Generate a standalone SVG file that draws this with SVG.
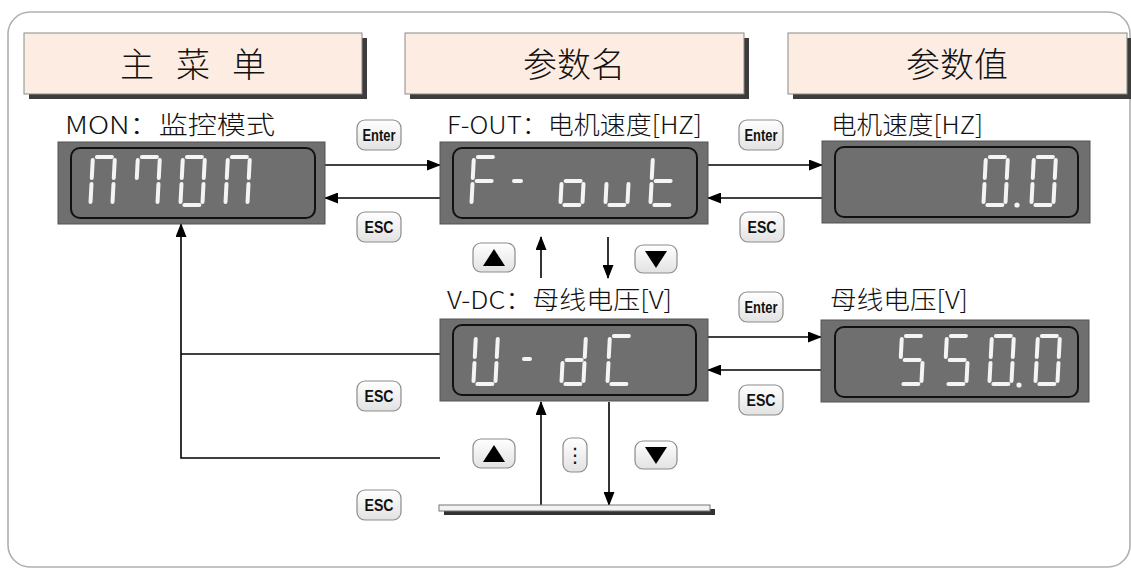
<svg xmlns="http://www.w3.org/2000/svg" xmlns:xlink="http://www.w3.org/1999/xlink" width="1131" height="570" viewBox="0 0 1131 570">
<style>
.frame{fill:#fff;stroke:#b0b0b0;stroke-width:1.6}
.hdr{fill:#fcece2;stroke:#8a8a8a;stroke-width:1}
.hdrsh{fill:#3c3c3c}
.htxt{font-family:"Noto Sans CJK SC",sans-serif;font-size:34px;font-weight:300;fill:#111;text-anchor:middle}
.lbl{font-family:"Noto Sans CJK SC","Liberation Sans",sans-serif;font-size:25px;font-weight:300;fill:#111}
.disp{fill:#6f6f6f;stroke:#555;stroke-width:1}
.inner{fill:#6f6f6f;stroke:#111;stroke-width:2}
.seg{fill:#f4f4f4}
.btn{fill:url(#bg);stroke:#8c8c8c;stroke-width:1.2}
.btxt{font-family:"Liberation Sans Narrow","Liberation Sans",sans-serif;font-weight:bold;font-size:17px;fill:#111;text-anchor:middle}
.conn{fill:none;stroke:#000;stroke-width:1.6}
</style>
<defs>
<linearGradient id="bg" x1="0" y1="0" x2="0" y2="1">
<stop offset="0" stop-color="#ffffff"/>
<stop offset="1" stop-color="#e2e2e2"/>
</linearGradient>
<marker id="ah" markerUnits="userSpaceOnUse" markerWidth="14" markerHeight="11" refX="13" refY="5.5" orient="auto">
<path d="M0,0 L14,5.5 L0,11 z" fill="#000"/>
</marker>
<rect id="sa" class="seg" x="3" y="0" width="19" height="4" rx="2"/>
<rect id="sb" class="seg" x="21" y="3" width="4" height="22" rx="2"/>
<rect id="sc" class="seg" x="21" y="27" width="4" height="22" rx="2"/>
<rect id="sd" class="seg" x="3" y="48" width="19" height="4" rx="2"/>
<rect id="se" class="seg" x="-1" y="27" width="4" height="22" rx="2"/>
<rect id="sf" class="seg" x="-1" y="3" width="4" height="22" rx="2"/>
<rect id="sg" class="seg" x="3" y="24" width="19" height="4" rx="2"/>
</defs>

<rect class="frame" x="8" y="12" width="1122" height="555" rx="22"/>

<g id="hdr-main">
<rect class="hdrsh" x="29" y="38" width="338" height="61"/>
<rect class="hdr" x="24" y="33" width="338" height="61"/>
<text class="htxt" x="137 165 193 221 249" y="77">主 菜 单</text>
</g>
<g id="hdr-name">
<rect class="hdrsh" x="410" y="38" width="339" height="61"/>
<rect class="hdr" x="405" y="33" width="339" height="61"/>
<text class="htxt" x="574" y="77">参数名</text>
</g>
<g id="hdr-value">
<rect class="hdrsh" x="793" y="38" width="339" height="61"/>
<rect class="hdr" x="788" y="33" width="339" height="61"/>
<text class="htxt" x="957" y="77">参数值</text>
</g>

<g id="connectors">
<path class="conn" d="M325 165 H440" marker-end="url(#ah)"/>
<path class="conn" d="M440 198 H325" marker-end="url(#ah)"/>
<path class="conn" d="M708 165 H822" marker-end="url(#ah)"/>
<path class="conn" d="M822 198 H708" marker-end="url(#ah)"/>
<path class="conn" d="M708 337 H821" marker-end="url(#ah)"/>
<path class="conn" d="M821 370 H708" marker-end="url(#ah)"/>
<path class="conn" d="M541 278 V237" marker-end="url(#ah)"/>
<path class="conn" d="M608 237 V278" marker-end="url(#ah)"/>
<path class="conn" d="M541 505 V402" marker-end="url(#ah)"/>
<path class="conn" d="M609 402 V505" marker-end="url(#ah)"/>
<path class="conn" d="M440 354 H181"/>
<path class="conn" d="M440 458 H181 V224" marker-end="url(#ah)"/>
</g>

<g id="node-mon">
<text class="lbl" x="65" y="134" textLength="210" lengthAdjust="spacingAndGlyphs">MON：监控模式</text>
<rect class="disp" x="58" y="142" width="267" height="82"/>
<rect class="inner" x="71" y="148" width="244" height="70" rx="9"/>
<g transform="translate(92,155) skewX(-3)"><use href="#sa"/><use href="#sb"/><use href="#sc"/><use href="#se"/><use href="#sf"/></g>
<g transform="translate(137,155) skewX(-3)"><use href="#sa"/><use href="#sb"/><use href="#sc"/><use href="#sf"/></g>
<g transform="translate(182,155) skewX(-3)"><use href="#sa"/><use href="#sb"/><use href="#sc"/><use href="#sd"/><use href="#se"/><use href="#sf"/></g>
<g transform="translate(227,155) skewX(-3)"><use href="#sa"/><use href="#sb"/><use href="#sc"/><use href="#se"/><use href="#sf"/></g>
</g>

<g id="node-fout">
<text class="lbl" x="447" y="134" textLength="255" lengthAdjust="spacingAndGlyphs">F-OUT：电机速度[HZ]</text>
<rect class="disp" x="440" y="142" width="268" height="82"/>
<rect class="inner" x="453" y="148" width="244" height="70" rx="9"/>
<g transform="translate(473,155) skewX(-3)"><use href="#sa"/><use href="#se"/><use href="#sf"/><use href="#sg"/></g>
<rect class="seg" x="512" y="179" width="11" height="4" rx="2"/>
<g transform="translate(562,155) skewX(-3)"><use href="#sc"/><use href="#sd"/><use href="#se"/><use href="#sg"/></g>
<g transform="translate(607,155) skewX(-3)"><use href="#sc"/><use href="#sd"/><use href="#se"/></g>
<g transform="translate(652,155) skewX(-3)"><use href="#sd"/><use href="#se"/><use href="#sf"/><use href="#sg"/></g>
</g>

<g id="node-speed">
<text class="lbl" x="831" y="134" textLength="152" lengthAdjust="spacingAndGlyphs">电机速度[HZ]</text>
<rect class="disp" x="822" y="141" width="268" height="82"/>
<rect class="inner" x="835" y="147" width="243" height="70" rx="9"/>
<g transform="translate(985,155) skewX(-3)"><use href="#sa"/><use href="#sb"/><use href="#sc"/><use href="#sd"/><use href="#se"/><use href="#sf"/></g>
<circle class="seg" cx="1017" cy="205" r="2.6"/>
<g transform="translate(1033,155) skewX(-3)"><use href="#sa"/><use href="#sb"/><use href="#sc"/><use href="#sd"/><use href="#se"/><use href="#sf"/></g>
</g>

<g id="node-vdc">
<text class="lbl" x="447" y="309" textLength="225" lengthAdjust="spacingAndGlyphs">V-DC：母线电压[V]</text>
<rect class="disp" x="440" y="319" width="268" height="82"/>
<rect class="inner" x="453" y="325" width="243" height="70" rx="9"/>
<g transform="translate(475,334) skewX(-3)"><use href="#sb"/><use href="#sc"/><use href="#sd"/><use href="#se"/><use href="#sf"/></g>
<rect class="seg" x="522" y="357" width="10" height="4" rx="2"/>
<g transform="translate(563,334) skewX(-3)"><use href="#sb"/><use href="#sc"/><use href="#sd"/><use href="#se"/><use href="#sg"/></g>
<g transform="translate(609,334) skewX(-3)"><use href="#sa"/><use href="#sd"/><use href="#se"/><use href="#sf"/></g>
</g>

<g id="node-voltage">
<text class="lbl" x="830" y="309" textLength="138" lengthAdjust="spacingAndGlyphs">母线电压[V]</text>
<rect class="disp" x="821" y="320" width="268" height="82"/>
<rect class="inner" x="835" y="327" width="243" height="70" rx="9"/>
<g transform="translate(901,334) skewX(-3)"><use href="#sa"/><use href="#sf"/><use href="#sg"/><use href="#sc"/><use href="#sd"/></g>
<g transform="translate(946,334) skewX(-3)"><use href="#sa"/><use href="#sf"/><use href="#sg"/><use href="#sc"/><use href="#sd"/></g>
<g transform="translate(991,334) skewX(-3)"><use href="#sa"/><use href="#sb"/><use href="#sc"/><use href="#sd"/><use href="#se"/><use href="#sf"/></g>
<circle class="seg" cx="1019" cy="385" r="2.6"/>
<g transform="translate(1037,334) skewX(-3)"><use href="#sa"/><use href="#sb"/><use href="#sc"/><use href="#sd"/><use href="#se"/><use href="#sf"/></g>
</g>

<g id="node-bar">
<rect x="444" y="509" width="271" height="6" fill="#333"/>
<rect x="439" y="505" width="271" height="6" fill="#f2f2f2" stroke="#777" stroke-width="1"/>
</g>

<g id="btn-enter1"><rect class="btn" x="357" y="120" width="44" height="30" rx="8"/><text class="btxt" x="379" y="141" textLength="33" lengthAdjust="spacingAndGlyphs">Enter</text></g>
<g id="btn-esc1"><rect class="btn" x="357" y="212" width="44" height="30" rx="8"/><text class="btxt" x="379" y="233" textLength="29" lengthAdjust="spacingAndGlyphs">ESC</text></g>
<g id="btn-enter2"><rect class="btn" x="739" y="120" width="44" height="30" rx="8"/><text class="btxt" x="761" y="141" textLength="33" lengthAdjust="spacingAndGlyphs">Enter</text></g>
<g id="btn-esc2"><rect class="btn" x="740" y="212" width="44" height="30" rx="8"/><text class="btxt" x="762" y="233" textLength="29" lengthAdjust="spacingAndGlyphs">ESC</text></g>
<g id="btn-up1"><rect class="btn" x="473" y="243" width="42" height="29" rx="8"/><path d="M483 266 L505 266 L494 249 z" fill="#000"/></g>
<g id="btn-down1"><rect class="btn" x="635" y="245" width="42" height="28" rx="8"/><path d="M645 251 L667 251 L656 268 z" fill="#000"/></g>
<g id="btn-enter3"><rect class="btn" x="739" y="292" width="44" height="30" rx="8"/><text class="btxt" x="761" y="313" textLength="33" lengthAdjust="spacingAndGlyphs">Enter</text></g>
<g id="btn-esc3"><rect class="btn" x="739" y="385" width="44" height="30" rx="8"/><text class="btxt" x="761" y="406" textLength="29" lengthAdjust="spacingAndGlyphs">ESC</text></g>
<g id="btn-esc4"><rect class="btn" x="357" y="381" width="44" height="30" rx="8"/><text class="btxt" x="379" y="402" textLength="29" lengthAdjust="spacingAndGlyphs">ESC</text></g>
<g id="btn-esc5"><rect class="btn" x="357" y="490" width="44" height="30" rx="8"/><text class="btxt" x="379" y="511" textLength="29" lengthAdjust="spacingAndGlyphs">ESC</text></g>
<g id="btn-up2"><rect class="btn" x="473" y="439" width="42" height="29" rx="8"/><path d="M483 462 L505 462 L494 445 z" fill="#000"/></g>
<g id="btn-dots"><rect class="btn" x="563" y="438" width="24" height="34" rx="8"/><text x="575" y="462" font-family="DejaVu Sans, sans-serif" font-size="20" fill="#111" text-anchor="middle">⋮</text></g>
<g id="btn-down2"><rect class="btn" x="635" y="441" width="42" height="28" rx="8"/><path d="M645 447 L667 447 L656 464 z" fill="#000"/></g>
</svg>
